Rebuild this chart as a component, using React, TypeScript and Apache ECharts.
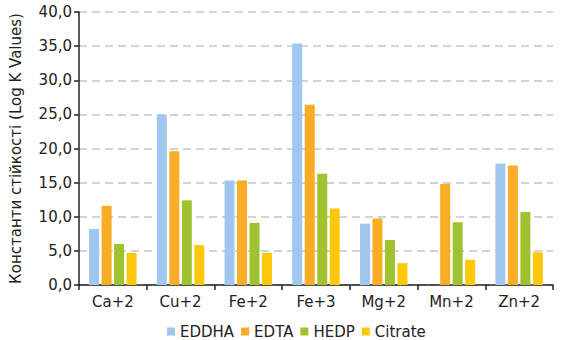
import React, { useEffect, useRef } from "react";
import * as echarts from "echarts";

const categories = ["Ca+2", "Cu+2", "Fe+2", "Fe+3", "Mg+2", "Mn+2", "Zn+2"];
const seriesNames = ["EDDHA", "EDTA", "HEDP", "Citrate"];
const eddha = [8.2, 25.0, 15.3, 35.4, 9.0, null, 17.8];
const edta = [11.6, 19.6, 15.3, 26.4, 9.75, 14.8, 17.5];
const hedp = [6.0, 12.4, 9.1, 16.3, 6.6, 9.2, 10.7];
const citrate = [4.7, 5.85, 4.7, 11.2, 3.2, 3.7, 4.8];
const colors = ["#a0c8ee", "#f9ac25", "#a0c22e", "#fec80a"];
const yAxisTitle = "Константи стійкості (Log K Values)";

export default function App() {
  const ref = useRef<HTMLDivElement>(null);
  useEffect(() => {
    if (!ref.current) return;
    const chart = echarts.init(ref.current, null, { renderer: "svg" });
    const font = "DejaVu Sans";
    const data = [eddha, edta, hedp, citrate];
    chart.setOption({
      animation: false,
      grid: { left: 75, right: 14, top: 12, bottom: 55, containLabel: false },
      legend: {
        data: seriesNames,
        left: 162,
        top: 319,
        itemWidth: 8,
        itemHeight: 8,
        itemGap: 7,
        icon: "rect",
        textStyle: { fontFamily: font, fontSize: 15, color: "#222" },
      },
      xAxis: {
        type: "category",
        data: categories,
        axisLine: { lineStyle: { color: "#222", width: 1.5 } },
        axisTick: { show: true, length: 5, lineStyle: { color: "#222", width: 1.5 } },
        axisLabel: { fontFamily: font, fontSize: 15, color: "#222", margin: 9 },
      },
      yAxis: {
        type: "value",
        min: 0,
        max: 40,
        interval: 5,
        name: yAxisTitle,
        nameLocation: "middle",
        nameGap: 56,
        nameTextStyle: { fontFamily: font, fontSize: 15, color: "#222" },
        axisLine: { show: true, lineStyle: { color: "#222", width: 1.5 } },
        axisTick: { show: true, length: 5, lineStyle: { color: "#222", width: 1.5 } },
        axisLabel: {
          fontFamily: font,
          fontSize: 15,
          color: "#222",
          margin: 7,
          formatter: (v: number) => v.toFixed(1).replace(".", ","),
        },
        splitLine: { lineStyle: { color: "#c6c6c6", width: 1.5, type: [8, 5] } },
      },
      series: seriesNames.map((n, i) => ({
        name: n,
        type: "bar",
        data: data[i],
        barWidth: 10,
        barGap: "25%",
        itemStyle: { color: colors[i] },
      })),
    });
    return () => chart.dispose();
  }, []);
  return <div ref={ref} style={{ width: 567, height: 340, position: "absolute", left: 0, top: 0 }} />;
}
